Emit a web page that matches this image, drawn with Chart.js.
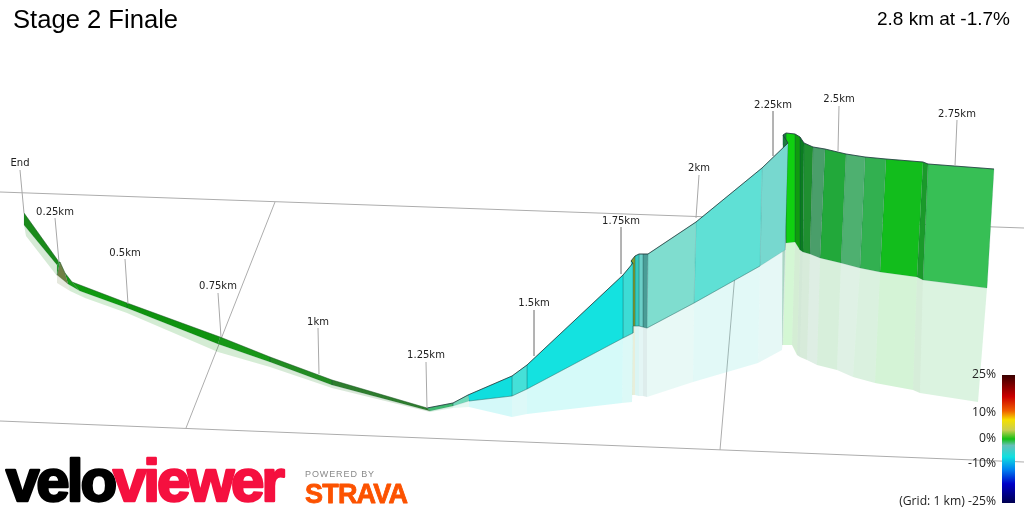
<!DOCTYPE html>
<html><head><meta charset="utf-8">
<style>html,body{margin:0;padding:0;background:#fff}canvas{display:block}</style>
<script src="https://cdn.jsdelivr.net/npm/chart.js@4"></script>
</head><body><canvas id="c" width="1024" height="512"></canvas>
<script>
const topX  =[24,59,60,65,72,127,220,270,332,427,453,468,512,527,623,633,631,635,639,643,648,696,762,788,783,786,795,800,804,813,825,846,865,886,923,928,994];
const topY  =[213,262,262,273,282,303,337,357,380,408,403,395,376,365,275,263,261,256,254,254,254,222,168,143,135,133,134,137,143,147,149,154,157,159,162,164,169];
const wallX =[24,57,57,68,80,127,218,270,332,430,453,469,512,527,623,633,633,635,639,643,647,694,760,785,783,786,795,800,803,810,820,841,860,880,917,923,987];
const wallY =[225,265,275,284,291,308,344,362,385,411,406,401,396,389,338,333,326,326,326,327,328,303,266,250,145,243,242,250,252,254,258,263,268,272,277,280,288];
const shadeX=[26,57,57,70,85,127,218,270,332,430,453,469,512,527,622,632,632,635,639,643,647,693,758,782,782,783,792,797,800,807,817,837,853,875,913,920,978];
const shadeY=[236,276,283,291,298,313,352,367,388,412,408,407,417,414,403,402,395,395,396,396,397,382,363,350,345,345,345,355,357,360,365,370,377,383,390,393,402];
const facetColors=['#1a8a1a','#27a02a','#6f7f45','#179a17','#0f9a0f','#0f930f','#179717','#228c22','#2e7d2e','#3fb870','#70d8b8','#10dede','#45e0d8','#14e2e0','#3ddcd5','#3ddcd5','#7fa030','#35c9bd','#6bcfc8','#4a9c96','#7fddcf','#5fe0d5','#77d8cf','#1f7a40','#1f7a40','#10d010','#0f9a0f','#0a7d20','#1f8f30','#4a9e6a','#22a83a','#4eb070','#32b050','#12bd1c','#1a9a2a','#37bf55'];
const gridX=[[0,1024],[0,1024],[275,186],[737,720]];
const gridY=[[192,228],[421,462],[202,428],[250,450]];
const markerLabels=['End','0.25km','0.5km','0.75km','1km','1.25km','1.5km','1.75km','2km','2.25km','2.5km','2.75km'];
const labelX=[20,55,125,218,318,426,534,621,699,773,839,957];
const labelY=[163,212,253,286,322,355,303,221,168,105,99,114];
const leaderStartY=[170,218,259,293,328,362,310,227,175,111,106,120];
const leaderEndX=[24,59,128,221,319,427,534,621,696,773,838,955];
const leaderEndY=[213,262,304,337,374,408,356,274,218,156,151,166];
const legendLabels=['25%','10%','0%','-10%','(Grid: 1 km) -25%'];
const legendY=[375,413,439,464,502];
const barStops=[0,0.17,0.28,0.35,0.43,0.50,0.55,0.64,0.74,0.85,1];
const barColors=['#3a0000','#cc0000','#f06000','#f5e000','#c9cf50','#14c014','#66c0b8','#10e0e0','#0080f0','#0000c8','#000050'];
const barX=[1002,1015,1015,1002,1002];
const barY=[375,375,503,503,375];

const poly=(xs,ys)=>xs.map((x,i)=>({x,y:ys[i]}));
const canvas=document.getElementById('c');
const c2=canvas.getContext('2d');
const grad=c2.createLinearGradient(0,barY[0],0,barY[2]);
barStops.forEach((s,i)=>grad.addColorStop(s,barColors[i]));

const ds=[];
const base={showLine:true,pointRadius:0,pointHoverRadius:0,tension:0};
markerLabels.forEach((m,i)=>ds.push({...base,data:poly([labelX[i],leaderEndX[i]],[leaderStartY[i],leaderEndY[i]]),borderColor:'#a8a8a8',borderWidth:1,fill:false}));
ds.push({...base,data:poly(topX.slice(0,10),topY.slice(0,10)),borderColor:'rgba(15,80,15,0.55)',borderWidth:0.8,fill:false});
ds.push({...base,data:poly(topX.slice(9),topY.slice(9)),borderColor:'rgba(35,65,65,0.85)',borderWidth:1,fill:false});
ds.push({...base,data:poly(wallX.slice(11,23),wallY.slice(11,23)),borderColor:'rgba(40,110,105,0.45)',borderWidth:1,fill:false});
facetColors.forEach((col,i)=>ds.push({...base,
  data:poly([topX[i],topX[i+1],wallX[i+1],wallX[i],topX[i]],[topY[i],topY[i+1],wallY[i+1],wallY[i],topY[i]]),
  borderColor:'rgba(20,70,70,0.14)',borderWidth:0.8,backgroundColor:col,fill:'shape'}));
facetColors.forEach((col,i)=>ds.push({...base,
  data:poly([wallX[i],wallX[i+1],shadeX[i+1],shadeX[i],wallX[i]],[wallY[i],wallY[i+1],shadeY[i+1],shadeY[i],wallY[i]]),
  borderWidth:0,borderColor:'transparent',backgroundColor:col+'2e',fill:'shape'}));
gridX.forEach((g,i)=>ds.push({...base,data:poly(g,gridY[i]),borderColor:'#adadad',borderWidth:1,fill:false}));
ds.unshift({...base,data:poly(barX,barY),borderWidth:0,borderColor:'transparent',backgroundColor:grad,fill:'shape'});

const textPlugin={id:'texts',afterDraw(ch){
  const {ctx,scales:{x,y}}=ch;
  const put=(t,px,py,font,col,al='left',bl='alphabetic',ls='0px')=>{
    ctx.font=font;ctx.fillStyle=col;ctx.textAlign=al;ctx.textBaseline=bl;ctx.letterSpacing=ls;
    ctx.fillText(t,x.getPixelForValue(px),y.getPixelForValue(py));};
  const heavy=(t,px,py,font,col,ls,w)=>{
    ctx.font=font;ctx.letterSpacing=ls;ctx.textAlign='left';ctx.textBaseline='alphabetic';
    ctx.lineJoin='round';ctx.strokeStyle=col;ctx.lineWidth=w;
    ctx.strokeText(t,x.getPixelForValue(px),y.getPixelForValue(py));
    put(t,px,py,font,col,'left','alphabetic',ls);};
  ctx.save();
  put('Stage 2 Finale',13,28,'25.6px "Liberation Sans"','#000');
  put('2.8 km at -1.7%',1010,25,'19px "Liberation Sans"','#000','right');
  markerLabels.forEach((m,i)=>put(m,labelX[i],labelY[i],'10px "DejaVu Sans"','#222','center','middle'));
  legendLabels.forEach((m,i)=>put(m,996,legendY[i],'12.2px "Open Sans"','#222','right','middle'));
  heavy('velo',6,501,'bold 60px "Liberation Sans"','#000','-3px',2.5);
  heavy('viewer',113,501,'bold 60px "Liberation Sans"','#f5103f','-3px',2.5);
  put('POWERED BY',305,477,'9px "Liberation Sans"','#8a8a8a','left','alphabetic','0.9px');
  heavy('STRAVA',305,503,'bold 27px "Liberation Sans"','#fc5200','-0.8px',0.8);
  ctx.restore();
}};

new Chart(canvas,{type:'scatter',data:{datasets:ds},plugins:[textPlugin],options:{
  responsive:false,animation:false,events:[],
  layout:{padding:0},
  plugins:{legend:{display:false},tooltip:{enabled:false},title:{display:false}},
  scales:{x:{type:'linear',min:0,max:1024,display:false},y:{type:'linear',min:0,max:512,reverse:true,display:false}}
}});
</script></body></html>
